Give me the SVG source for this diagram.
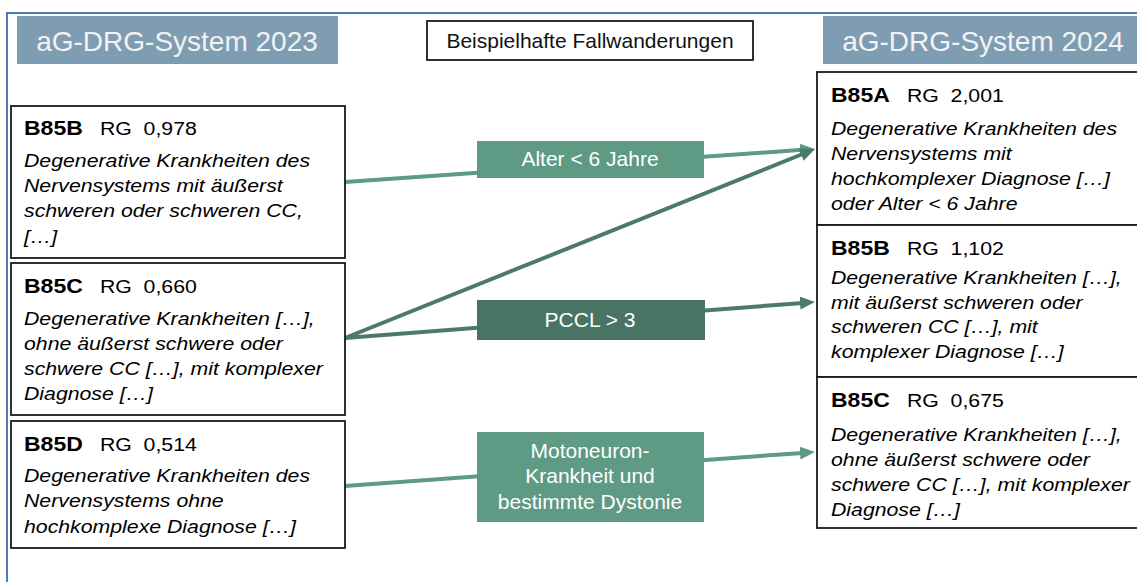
<svg xmlns="http://www.w3.org/2000/svg" width="1137" height="582" viewBox="0 0 1137 582">
<style>
.frame{fill:none;stroke:#4A7EBB;stroke-width:2}
.hdr{fill:#7F9DB2}
.hdrt{font-family:"Liberation Sans",Arial,sans-serif;font-size:28px;fill:#F2F2F2;text-anchor:middle}
.ttl{fill:#fff;stroke:#1a1a1a;stroke-width:1.8}
.ttlt{font-family:"Liberation Sans",Arial,sans-serif;font-size:21px;fill:#111;text-anchor:middle}
.box{fill:#fff;stroke:#1a1a1a;stroke-width:1.8}
.code{font-family:"Liberation Sans",Arial,sans-serif;font-size:20px;font-weight:bold;fill:#000}
.rg{font-family:"Liberation Sans",Arial,sans-serif;font-size:18.5px;fill:#000}
.desc{font-family:"Liberation Sans",Arial,sans-serif;font-size:18.5px;font-style:italic;fill:#000}
.lblL{fill:#5E9A84}
.lblD{fill:#487563}
.lblt{font-family:"Liberation Sans",Arial,sans-serif;font-size:21px;fill:#fff;text-anchor:middle}
.cL{stroke:#5E9A84;stroke-width:4;fill:none}
.cD{stroke:#4A7A68;stroke-width:4;fill:none}
</style>
<defs>
<marker id="arrL" markerUnits="userSpaceOnUse" markerWidth="15" markerHeight="13" refX="3" refY="6.5" orient="auto"><path d="M0,0 L15,6.5 L0,13 z" fill="#5E9A84"/></marker>
<marker id="arrD" markerUnits="userSpaceOnUse" markerWidth="15" markerHeight="13" refX="3" refY="6.5" orient="auto"><path d="M0,0 L15,6.5 L0,13 z" fill="#4A7A68"/></marker>
</defs>
<rect width="1137" height="582" fill="#fff"/>
<rect class="frame" x="7" y="13" width="1200" height="700"/>

<g id="header-2023"><rect class="hdr" x="17" y="16" width="321" height="48"/><text class="hdrt" x="177" y="51">aG-DRG-System 2023</text></g>
<g id="title"><rect class="ttl" x="427" y="21" width="326" height="39"/><text class="ttlt" x="590" y="48">Beispielhafte Fallwanderungen</text></g>
<g id="header-2024"><rect class="hdr" x="823" y="16" width="321" height="48"/><text class="hdrt" x="983" y="51">aG-DRG-System 2024</text></g>

<g id="connectors">
<line class="cL" x1="345" y1="182" x2="803" y2="149.8" marker-end="url(#arrL)"/>
<line class="cD" x1="345" y1="338" x2="803.9" y2="153.5" marker-end="url(#arrD)"/>
<line class="cD" x1="345" y1="338" x2="803" y2="302.9" marker-end="url(#arrD)"/>
<line class="cL" x1="345" y1="486" x2="803" y2="452.9" marker-end="url(#arrL)"/>
</g>

<g id="label-alter"><rect class="lblL" x="477" y="141" width="227" height="37"/><text class="lblt" x="590" y="166">Alter &lt; 6 Jahre</text></g>
<g id="label-pccl"><rect class="lblD" x="477" y="300" width="228" height="40"/><text class="lblt" x="590" y="327">PCCL &gt; 3</text></g>
<g id="label-motoneuron"><rect class="lblL" x="477" y="432" width="227" height="90"/>
<text class="lblt" x="590" y="458">Motoneuron-</text>
<text class="lblt" x="590" y="483">Krankheit und</text>
<text class="lblt" x="590" y="509">bestimmte Dystonie</text></g>

<g id="old-B85B"><rect class="box" x="11" y="106" width="334" height="152"/>
<g transform="translate(24,0) scale(1.15,1)">
<text class="code" x="0" y="135">B85B</text><text class="rg" x="66" y="135">RG</text><text class="rg" x="104" y="135">0,978</text>
<text class="desc" x="0" y="167">Degenerative Krankheiten des</text>
<text class="desc" x="0" y="192">Nervensystems mit äußerst</text>
<text class="desc" x="0" y="217">schweren oder schweren CC,</text>
<text class="desc" x="0" y="243">[…]</text></g></g>

<g id="old-B85C"><rect class="box" x="11" y="263" width="334" height="152"/>
<g transform="translate(24,0) scale(1.15,1)">
<text class="code" x="0" y="293">B85C</text><text class="rg" x="66" y="293">RG</text><text class="rg" x="104" y="293">0,660</text>
<text class="desc" x="0" y="325">Degenerative Krankheiten […],</text>
<text class="desc" x="0" y="350">ohne äußerst schwere oder</text>
<text class="desc" x="0" y="375">schwere CC […], mit komplexer</text>
<text class="desc" x="0" y="400">Diagnose […]</text></g></g>

<g id="old-B85D"><rect class="box" x="11" y="421" width="334" height="127"/>
<g transform="translate(24,0) scale(1.15,1)">
<text class="code" x="0" y="451">B85D</text><text class="rg" x="66" y="451">RG</text><text class="rg" x="104" y="451">0,514</text>
<text class="desc" x="0" y="482">Degenerative Krankheiten des</text>
<text class="desc" x="0" y="507">Nervensystems ohne</text>
<text class="desc" x="0" y="533">hochkomplexe Diagnose […]</text></g></g>

<g id="new-B85A"><rect class="box" x="817" y="72" width="330" height="153"/>
<g transform="translate(831,0) scale(1.15,1)">
<text class="code" x="0" y="102">B85A</text><text class="rg" x="66" y="102">RG</text><text class="rg" x="104" y="102">2,001</text>
<text class="desc" x="0" y="135">Degenerative Krankheiten des</text>
<text class="desc" x="0" y="160">Nervensystems mit</text>
<text class="desc" x="0" y="185">hochkomplexer Diagnose […]</text>
<text class="desc" x="0" y="210">oder Alter &lt; 6 Jahre</text></g></g>

<g id="new-B85B"><rect class="box" x="817" y="225" width="330" height="152"/>
<g transform="translate(831,0) scale(1.15,1)">
<text class="code" x="0" y="255">B85B</text><text class="rg" x="66" y="255">RG</text><text class="rg" x="104" y="255">1,102</text>
<text class="desc" x="0" y="284">Degenerative Krankheiten […],</text>
<text class="desc" x="0" y="309">mit äußerst schweren oder</text>
<text class="desc" x="0" y="333">schweren CC […], mit</text>
<text class="desc" x="0" y="358">komplexer Diagnose […]</text></g></g>

<g id="new-B85C"><rect class="box" x="817" y="377" width="330" height="151"/>
<g transform="translate(831,0) scale(1.15,1)">
<text class="code" x="0" y="407">B85C</text><text class="rg" x="66" y="407">RG</text><text class="rg" x="104" y="407">0,675</text>
<text class="desc" x="0" y="441">Degenerative Krankheiten […],</text>
<text class="desc" x="0" y="466">ohne äußerst schwere oder</text>
<text class="desc" x="0" y="491">schwere CC […], mit komplexer</text>
<text class="desc" x="0" y="516">Diagnose […]</text></g></g>
</svg>
